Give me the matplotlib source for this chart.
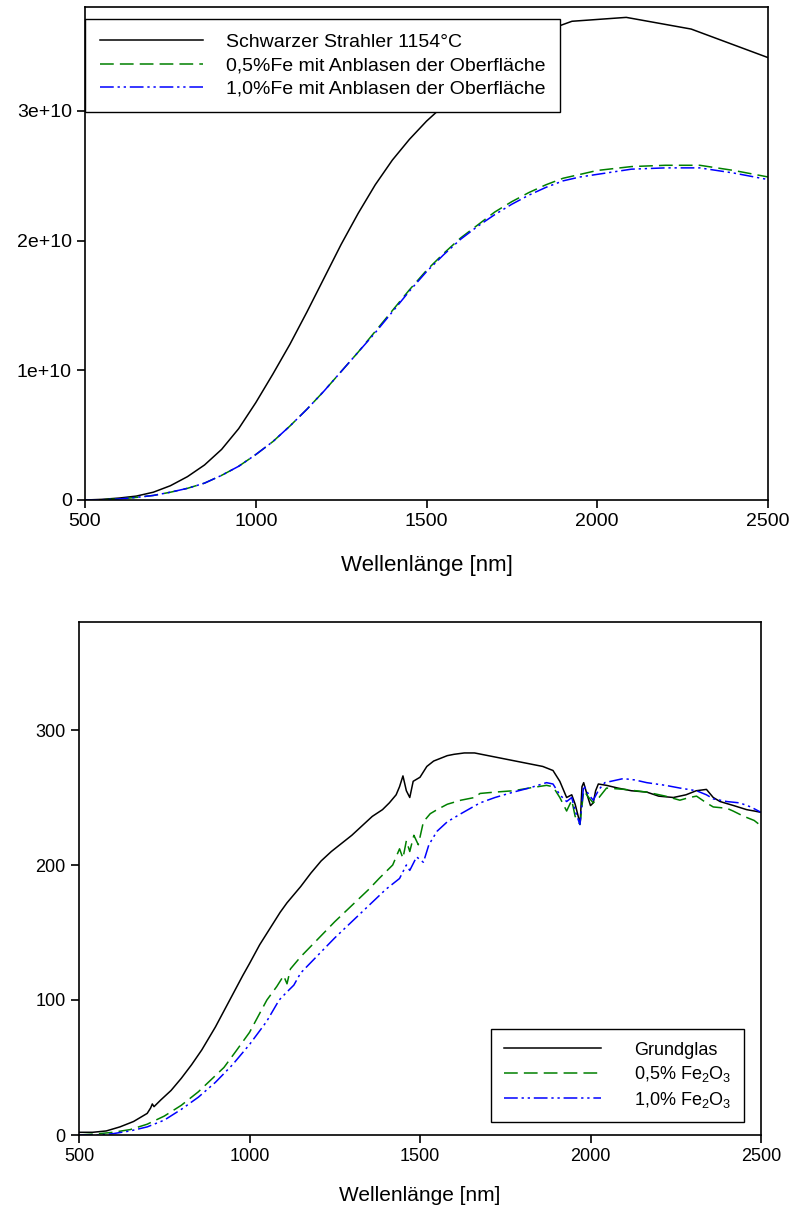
import matplotlib
matplotlib.use("Agg")
import matplotlib.pyplot as plt
from matplotlib.ticker import FixedLocator, FuncFormatter

plt.rcParams["mathtext.default"] = "regular"

# --- top chart: spectral radiance ---
wl_bb = [500, 550, 600, 650, 700, 750, 800, 850, 900, 950, 1000, 1050, 1100, 1150,
         1200, 1250, 1300, 1350, 1400, 1450, 1500, 1550, 1600, 1700, 1800, 1926,
         2085, 2275, 2500]
bb = [0.0, 0.005, 0.015, 0.03, 0.06, 0.11, 0.18, 0.27, 0.39, 0.55, 0.75, 0.97, 1.20,
      1.45, 1.71, 1.97, 2.21, 2.43, 2.62, 2.78, 2.92, 3.04, 3.16, 3.40, 3.57, 3.69,
      3.72, 3.63, 3.41]  # x 1e10

wl_fe = [500, 550, 600, 650, 700, 750, 800, 850, 900, 950, 1000, 1050, 1100, 1150,
         1200, 1250, 1300, 1350, 1400, 1450, 1500, 1550, 1600, 1650, 1700, 1750,
         1800, 1850, 1900, 1950, 2000, 2100, 2200, 2300, 2400, 2500]
fe05_top = [0.0, 0.002, 0.008, 0.02, 0.035, 0.06, 0.09, 0.13, 0.19, 0.26, 0.35, 0.45,
            0.57, 0.70, 0.84, 0.99, 1.14, 1.30, 1.46, 1.62, 1.77, 1.90, 2.02, 2.12,
            2.22, 2.30, 2.37, 2.43, 2.48, 2.51, 2.54, 2.57, 2.58, 2.58, 2.54, 2.49]
fe10_top = [0.0, 0.002, 0.008, 0.02, 0.035, 0.06, 0.09, 0.13, 0.19, 0.26, 0.35, 0.45,
            0.57, 0.70, 0.84, 0.99, 1.14, 1.29, 1.45, 1.61, 1.76, 1.89, 2.01, 2.11,
            2.20, 2.28, 2.35, 2.41, 2.46, 2.49, 2.51, 2.55, 2.56, 2.56, 2.52, 2.47]

# --- bottom chart ---
wl_g = [500, 540, 580, 620, 660, 700, 710, 715, 720, 740, 770, 800, 830, 860, 900, 940,
        980, 1000, 1030, 1060, 1090, 1110, 1130, 1150, 1180, 1210, 1240, 1270, 1300,
        1330, 1360, 1390, 1410, 1430, 1440, 1450, 1460, 1470, 1480, 1500, 1520, 1540,
        1560, 1580, 1600, 1630, 1660, 1700, 1740, 1780, 1820, 1860, 1890, 1910, 1930,
        1945, 1955, 1965, 1970, 1975, 1980, 1990, 2000, 2008, 2015, 2023, 2047, 2080,
        2120, 2165, 2200, 2243, 2280, 2310, 2340, 2360, 2380, 2420, 2458, 2480, 2500]
grund = [2, 2, 3, 6, 10, 16, 20, 23, 21, 26, 33, 42, 52, 63, 80, 99, 118, 127, 141, 153,
         165, 172, 178, 184, 194, 203, 210, 216, 222, 229, 236, 241, 246, 252, 258, 266,
         255, 250, 262, 265, 273, 277, 279, 281, 282, 283, 283, 281, 279, 277, 275, 273,
         270, 262, 250, 252, 245, 235, 232, 258, 261, 252, 244, 246, 255, 260, 259, 257,
         255, 254, 251, 250, 252, 255, 256, 250, 247, 244, 241, 240, 239]

wl_05 = [500, 560, 600, 650, 700, 750, 800, 850, 900, 925, 960, 1000, 1051, 1080, 1100,
         1110, 1120, 1150, 1200, 1250, 1300, 1350, 1380, 1400, 1420, 1440, 1450, 1460,
         1470, 1482, 1495, 1510, 1530, 1550, 1580, 1620, 1660, 1676, 1720, 1774, 1820,
         1871, 1890, 1910, 1930, 1945, 1955, 1969, 1980, 1995, 2008, 2025, 2047, 2100,
         2165, 2220, 2262, 2290, 2311, 2340, 2360, 2400, 2418, 2450, 2480, 2500]
fe05 = [0, 1, 2, 4, 8, 14, 22, 32, 44, 50, 62, 76, 100, 110, 118, 112, 123, 132, 145,
        158, 170, 182, 190, 195, 200, 212, 205, 218, 210, 222, 215, 232, 238, 241, 245,
        248, 250, 253, 254, 255, 257, 259, 258, 250, 240, 248, 236, 230, 255, 250, 246,
        250, 257, 256, 254, 251, 248, 250, 251, 246, 243, 242, 240, 236, 233, 229]

wl_10 = [500, 560, 600, 650, 700, 750, 800, 850, 900, 950, 1000, 1050, 1087, 1110, 1130,
         1150, 1200, 1250, 1300, 1350, 1400, 1440, 1460, 1470, 1490, 1510, 1526, 1550,
         1580, 1620, 1676, 1720, 1774, 1820, 1871, 1890, 1910, 1930, 1945, 1955, 1969,
         1980, 1995, 2008, 2025, 2042, 2096, 2130, 2165, 2220, 2262, 2311, 2340, 2360,
         2400, 2438, 2470, 2500]
fe10 = [0, 0, 1, 3, 6, 11, 19, 28, 39, 52, 67, 84, 100, 106, 111, 120, 133, 146, 158,
        170, 182, 190, 200, 196, 206, 202, 215, 225, 232, 238, 246, 250, 254, 257, 261,
        260, 252, 247, 250, 240, 230, 259, 252, 248, 256, 261, 264, 263, 261, 259, 257,
        255, 252, 249, 247, 246, 243, 239]

W, H = 794, 1218
fig = plt.figure(figsize=(W / 100, H / 100), dpi=100)

font = ["Liberation Sans", "DejaVu Sans"]

green_dash = (0, (9, 4))
blue_dashdot = (0, (9, 2.5, 1.5, 2.5, 1.5, 2.5))


def frame(ax, size):
    for s in ax.spines.values():
        s.set_linewidth(1.2)
    ax.tick_params(direction="out", length=6, width=1.2, top=False, right=False,
                   labelsize=size)
    for lab in ax.get_xticklabels() + ax.get_yticklabels():
        lab.set_family(font)


# top axes
ax1 = fig.add_axes([85 / W, 1 - 500 / H, (768 - 85) / W, (500 - 7) / H])
ax1.plot(wl_bb, [v * 1e10 for v in bb], color="black", lw=1.1,
         label="Schwarzer Strahler 1154°C")
ax1.plot(wl_fe, [v * 1e10 for v in fe05_top], color="green", lw=1.1,
         linestyle=green_dash, label="0,5%Fe mit Anblasen der Oberfläche")
ax1.plot(wl_fe, [v * 1e10 for v in fe10_top], color="blue", lw=1.1,
         linestyle=blue_dashdot, label="1,0%Fe mit Anblasen der Oberfläche")
ax1.set_xlim(500, 2500)
ax1.set_ylim(0, 3.8e10)
ax1.xaxis.set_major_locator(FixedLocator([500, 1000, 1500, 2000, 2500]))
ax1.yaxis.set_major_locator(FixedLocator([0, 1e10, 2e10, 3e10]))
ax1.yaxis.set_major_formatter(FuncFormatter(
    lambda v, p: "0" if v == 0 else f"{int(round(v / 1e10))}e+10"))
frame(ax1, 14)
ax1.set_xlabel("Wellenlänge [nm]", family=font, fontsize=16, labelpad=18)
leg1 = ax1.legend(loc="upper left", bbox_to_anchor=(0, 0.976), borderaxespad=0,
                  prop={"family": font, "size": 14}, handlelength=5.3,
                  handletextpad=1.2, borderpad=0.75, labelspacing=0.3,
                  fancybox=False, framealpha=1, edgecolor="black")
leg1.get_frame().set_linewidth(1.0)

# bottom axes
ax2 = fig.add_axes([79 / W, 1 - 1135 / H, (761 - 79) / W, (1135 - 622) / H])
ax2.plot(wl_g, grund, color="black", lw=1.1, label="Grundglas")
ax2.plot(wl_05, fe05, color="green", lw=1.1, linestyle=green_dash,
         label="0,5% Fe$_2$O$_3$")
ax2.plot(wl_10, fe10, color="blue", lw=1.1, linestyle=blue_dashdot,
         label="1,0% Fe$_2$O$_3$")
ax2.set_xlim(500, 2500)
ax2.set_ylim(0, 380)
ax2.xaxis.set_major_locator(FixedLocator([500, 1000, 1500, 2000, 2500]))
ax2.yaxis.set_major_locator(FixedLocator([0, 100, 200, 300]))
frame(ax2, 13)
ax2.set_xlabel("Wellenlänge [nm]", family=font, fontsize=15, labelpad=15)
leg2 = ax2.legend(loc="lower right", bbox_to_anchor=(0.975, 0.025), borderaxespad=0,
                  prop={"family": font, "size": 13}, handlelength=5.4,
                  handletextpad=1.8, borderpad=0.7, labelspacing=0.3,
                  fancybox=False, framealpha=1, edgecolor="black")
leg2.get_frame().set_linewidth(1.0)

fig.savefig("out.png", dpi=100)
